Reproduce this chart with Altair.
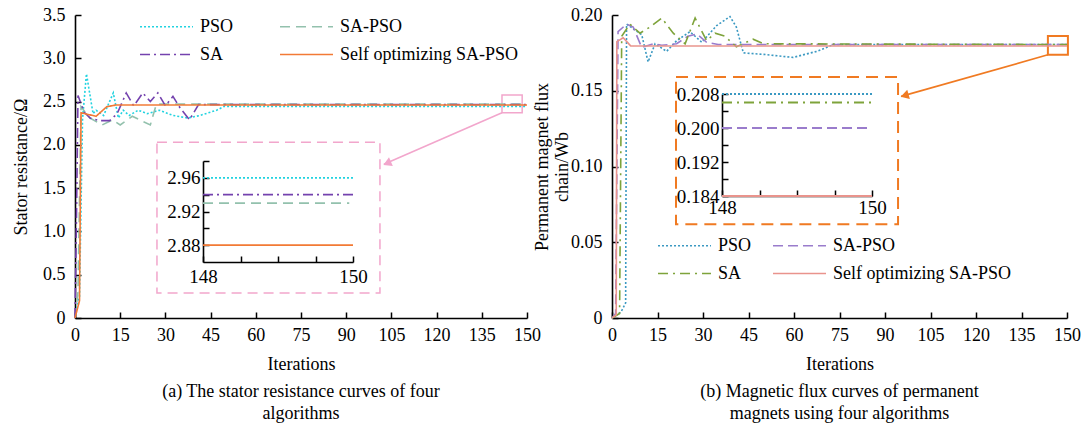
import altair as alt
import pandas as pd

FONT = "Liberation Serif"
SERIES = ["PSO", "SA-PSO", "SA", "Self optimizing SA-PSO"]

# ---------------- (a) stator resistance ----------------
a_pso_x = [0, 1.5, 2.5, 3.8, 6, 7, 9.5, 12.7, 14.4, 16, 18, 21, 24, 28, 32.5, 37.5, 41.5, 47, 49.5, 150]
a_pso_y = [0.02, 0.25, 2.30, 2.82, 2.36, 2.40, 2.34, 2.60, 2.31, 2.40, 2.34, 2.40, 2.36, 2.40, 2.34, 2.31, 2.34, 2.40, 2.445, 2.445]
a_sapso_x = [0, 1, 2, 5, 9, 12.5, 15, 19, 22, 25, 27, 150]
a_sapso_y = [0, 0.3, 2.44, 2.31, 2.23, 2.29, 2.23, 2.33, 2.28, 2.23, 2.47, 2.47]
a_sa_x = [0, 0.5, 1, 3, 5, 8, 11.5, 14, 17, 19.5, 22.5, 25, 27.5, 30, 32.5, 35, 38, 41, 150]
a_sa_y = [0, 1.2, 2.57, 2.38, 2.31, 2.28, 2.28, 2.36, 2.60, 2.45, 2.60, 2.50, 2.60, 2.45, 2.56, 2.42, 2.29, 2.465, 2.465]
a_self_x = [0, 1.5, 2, 7, 10.5, 13.5, 150]
a_self_y = [0, 0.2, 2.37, 2.33, 2.44, 2.46, 2.46]
a_inset_level = [2.96, 2.93, 2.94, 2.88]       # PSO, SA-PSO, SA, Self optimizing
a_inset_end = [150, 149.95, 150, 150]
a_colors = ["#22d3e0", "#93c1ad", "#7442ae", "#f27a35"]

# ---------------- (b) flux linkage ----------------
b_pso_x = [0, 3, 4.5, 4.8, 9.8, 11.9, 14.2, 18, 21.3, 25.7, 29.6, 34.5, 38.9, 41, 43.3, 50, 59.7, 67.5, 73, 150]
b_pso_y = [0, 0.004, 0.01, 0.194, 0.187, 0.169, 0.181, 0.176, 0.183, 0.189, 0.182, 0.193, 0.199, 0.192, 0.175, 0.174, 0.172, 0.176, 0.1805, 0.1805]
b_sapso_x = [0, 1.2, 2, 4.8, 7, 9.8, 13.6, 16.4, 21.3, 25, 28, 31.2, 35, 150]
b_sapso_y = [0, 0.003, 0.189, 0.194, 0.192, 0.1785, 0.181, 0.180, 0.181, 0.186, 0.1875, 0.182, 0.1805, 0.1805]
b_sa_x = [0, 2.5, 3.2, 5.9, 9.2, 12.5, 16.4, 20.2, 24.1, 27.4, 31.2, 34, 37.2, 41, 46.5, 50, 150]
b_sa_y = [0, 0.003, 0.186, 0.194, 0.188, 0.192, 0.198, 0.188, 0.181, 0.198, 0.183, 0.188, 0.186, 0.179, 0.184, 0.181, 0.1805]
b_self_x = [0, 1.4, 1.6, 3.7, 6.2, 150]
b_self_y = [0, 0.002, 0.1824, 0.185, 0.1795, 0.1795]
b_inset_level = [0.208, 0.200, 0.206, 0.184]
b_inset_end = [150, 149.95, 150, 150]
b_colors = ["#3b99c2", "#9a7ccc", "#7ea33b", "#e9938c"]

a_dashes = [[2, 2], [10, 6], [10, 4, 2, 4], [1, 0]]
b_dashes = [[2, 2], [10, 5], [10, 5, 2, 5], [1, 0]]


def series_frame(field, xs_list, ys_list):
    rows = []
    for name, xs, ys in zip(SERIES, xs_list, ys_list):
        for i, (x, y) in enumerate(zip(xs, ys)):
            rows.append({field: name, "it": x, "val": y, "ord": i})
    return pd.DataFrame(rows)


def inset_frame(field, levels, ends):
    rows = []
    for name, lv, e in zip(SERIES, levels, ends):
        rows.append({field: name, "ix": 148, "iv": lv, "ord": 0})
        rows.append({field: name, "ix": e, "iv": lv, "ord": 1})
    return pd.DataFrame(rows)


def ax(**kw):
    base = dict(labelFont=FONT, titleFont=FONT, labelFontSize=18, titleFontSize=18,
                labelColor="#000", titleColor="#000", domainColor="#000", tickColor="#000",
                titleFontWeight="normal", grid=False)
    base.update(kw)
    return alt.Axis(**base)


def panel(field, df_main, df_inset, colors, dashes, W, H, ydom, ystep_vals, yfmt, ytitle,
          ytitle_pad, inset_xr, inset_yr, inset_ydom, inset_ylab, inset_ytick, inset_xlab_pad,
          box, mark, arrow, head, accent, box_dash, box_w, legx, legy, colpad, caption):
    xs_main = alt.Scale(domain=[0, 150], nice=False, zero=False)
    ys_main = alt.Scale(domain=ydom, nice=False, zero=False)
    leg = alt.Legend(title=None, orient="none", legendX=legx, legendY=legy, columns=2,
                     direction="horizontal", values=SERIES,
                     columnPadding=colpad, rowPadding=7, symbolType="M-2.5,0H2.5", symbolSize=449,
                     symbolStrokeWidth=1.6, labelOffset=22, labelFontSize=18, labelFont=FONT,
                     labelLimit=400, padding=0, labelColor="#000")
    color = alt.Color(f"{field}:N", scale=alt.Scale(domain=SERIES, range=colors), legend=leg,
                      sort=SERIES)
    dash = alt.StrokeDash(f"{field}:N", scale=alt.Scale(domain=SERIES, range=dashes), legend=leg,
                          sort=SERIES)
    lab = f"datum.value == 0 ? '0' : format(datum.value, '{yfmt}')"

    lines = alt.Chart(df_main).mark_line(strokeWidth=1.6).encode(
        x=alt.X("it:Q", scale=xs_main,
                axis=ax(orient="bottom", values=list(range(0, 151, 15)), ticks=False,
                        labelPadding=8, title="Iterations", titlePadding=11,
                        domainWidth=1.6, labelFlush=False, labelOverlap=False, format="d")),
        y=alt.Y("val:Q", scale=ys_main,
                axis=ax(orient="left", values=ystep_vals, ticks=False, labelPadding=10,
                        labelExpr=lab, title=ytitle, titlePadding=ytitle_pad,
                        domainWidth=1.6, labelOverlap=False)),
        color=color, strokeDash=dash, order="ord:Q")

    bdf = pd.DataFrame([box])
    boxl = alt.Chart(bdf).mark_rect(fillOpacity=0, stroke=accent, strokeWidth=box_w,
                                    strokeDash=box_dash).encode(
        x=alt.X("x1:Q", scale=xs_main,
                axis=ax(orient="top", offset=-H, labels=False, domain=False, ticks=True,
                        tickSize=6, tickWidth=1.5, values=list(range(0, 151, 15)), title=None)),
        x2="x2:Q",
        y=alt.Y("y1:Q", scale=ys_main,
                axis=ax(orient="right", offset=-W, labels=False, domain=False, ticks=True,
                        tickSize=6, tickWidth=1.5, values=ystep_vals, title=None)),
        y2="y2:Q")

    mdf = pd.DataFrame([mark])
    markl = alt.Chart(mdf).mark_rect(fillOpacity=0, stroke=accent, strokeWidth=box_w).encode(
        x=alt.X("x1:Q", scale=xs_main, axis=None), x2="x2:Q",
        y=alt.Y("y1:Q", scale=ys_main, axis=None), y2="y2:Q")

    adf = pd.DataFrame([arrow])
    arrowl = alt.Chart(adf).mark_rule(color=accent, strokeWidth=1.6).encode(
        x=alt.X("x1:Q", scale=xs_main, axis=None), x2="x2:Q",
        y=alt.Y("y1:Q", scale=ys_main, axis=None), y2="y2:Q")

    hdf = pd.DataFrame([head])
    headl = alt.Chart(hdf).mark_point(shape="triangle", filled=True, size=90, opacity=1,
                                      color=accent, angle=head["ang"]).encode(
        x=alt.X("x:Q", scale=xs_main, axis=None),
        y=alt.Y("y:Q", scale=ys_main, axis=None))

    main = alt.layer(boxl, markl, arrowl, headl, lines)

    xs_in = alt.Scale(domain=[148, 150], range=inset_xr, nice=False, zero=False)
    ys_in = alt.Scale(domain=inset_ydom, range=inset_yr, nice=False, zero=False)
    in_lines = alt.Chart(df_inset).mark_line(strokeWidth=1.8).encode(
        x=alt.X("ix:Q", scale=xs_in,
                axis=ax(orient="bottom", offset=inset_yr[0] - H, values=[148, 149, 150],
                        ticks=False, labelPadding=inset_xlab_pad, title=None, domainWidth=1.6,
                        labelFlush=False, labelOverlap=False, labelFontSize=19, format="d")),
        y=alt.Y("iv:Q", scale=ys_in,
                axis=ax(orient="left", offset=-inset_xr[0], values=inset_ylab, ticks=False,
                        labelPadding=3, title=None, domainWidth=1.6, labelOverlap=False,
                        format=".2f" if inset_ydom[0] > 1 else ".3f", labelFontSize=19)),
        color=color, strokeDash=dash, order="ord:Q")
    in_ticks = alt.Chart(df_inset).mark_line(opacity=0).encode(
        x=alt.X("ix:Q", scale=xs_in,
                axis=ax(orient="top", offset=-inset_yr[0], values=[148, 148.5, 149, 149.5, 150],
                        labels=False, domain=False, ticks=True, tickSize=6, tickWidth=1.5,
                        title=None)),
        y=alt.Y("iv:Q", scale=ys_in,
                axis=ax(orient="right", offset=inset_xr[0] - W, values=inset_ytick,
                        labels=False, domain=False, ticks=True, tickSize=6, tickWidth=1.5,
                        title=None)),
        detail=f"{field}:N")
    inset = alt.layer(in_lines, in_ticks)

    return alt.layer(main, inset).resolve_scale(x="independent", y="independent").properties(
        width=W, height=H,
        title=alt.TitleParams(text=caption, orient="bottom", anchor="middle", fontSize=18,
                              font=FONT, fontWeight="normal", offset=10, lineHeight=22,
                              color="#000"))


df_a = series_frame("alg_a", [a_pso_x, a_sapso_x, a_sa_x, a_self_x], [a_pso_y, a_sapso_y, a_sa_y, a_self_y])
df_ai = inset_frame("alg_a", a_inset_level, a_inset_end)
df_b = series_frame("alg_b", [b_pso_x, b_sapso_x, b_sa_x, b_self_x], [b_pso_y, b_sapso_y, b_sa_y, b_self_y])
df_bi = inset_frame("alg_b", b_inset_level, b_inset_end)

left = panel("alg_a", df_a, df_ai, a_colors, a_dashes, 452, 303, [0, 3.5],
             [0, 0.5, 1.0, 1.5, 2.0, 2.5, 3.0, 3.5], ".1f", "Stator resistance/Ω", 12,
             [128, 278], [247, 146], [2.86, 2.98], [2.88, 2.92, 2.96],
             [2.88, 2.90, 2.92, 2.94, 2.96, 2.98], 5,
             {"x1": 27.2, "x2": 101.2, "y1": 0.29, "y2": 2.03},
             {"x1": 141.7, "x2": 148.4, "y1": 2.37, "y2": 2.575},
             {"x1": 141.7, "y1": 2.37, "x2": 102.5, "y2": 1.775},
             {"x": 104.0, "y": 1.794, "ang": 246.4},
             "#f2a6cc", [10, 6], 1.5, 80, 0, 42,
             ["(a) The stator resistance curves of four", "algorithms"])

right = panel("alg_b", df_b, df_bi, b_colors, b_dashes, 455, 303, [0, 0.2],
              [0, 0.05, 0.10, 0.15, 0.20], ".2f", ["Permanent magnet flux", "chain/Wb"], -1,
              [110, 260], [181, 79], [0.184, 0.208], [0.184, 0.192, 0.200, 0.208],
              [0.184, 0.188, 0.192, 0.196, 0.200, 0.204, 0.208], 2,
              {"x1": 21.1, "x2": 94.3, "y1": 0.0618, "y2": 0.159},
              {"x1": 143.7, "x2": 150.3, "y1": 0.1737, "y2": 0.1862},
              {"x1": 143.7, "y1": 0.1737, "x2": 95.3, "y2": 0.1463},
              {"x": 96.9, "y": 0.1471, "ang": 254.2},
              "#f07a22", [12, 7], 2, 61, 219, 17,
              ["(b) Magnetic flux curves of permanent", "magnets using four algorithms"])

chart = alt.hconcat(left, right, spacing=85, bounds="flush").resolve_scale(
    color="independent", strokeDash="independent"
).properties(
    padding={"left": 12, "top": 6, "right": 5, "bottom": 5}
).configure(font=FONT).configure_view(stroke=None).configure_axis(
    grid=False, labelFont=FONT, titleFont=FONT, labelFontSize=18, titleFontSize=18,
    labelColor="#000", titleColor="#000", domainColor="#000", tickColor="#000",
    titleFontWeight="normal"
).configure_legend(labelFont=FONT, labelFontSize=18, labelColor="#000")

chart.save("out.html", embed_options={"renderer": "svg", "actions": False})
